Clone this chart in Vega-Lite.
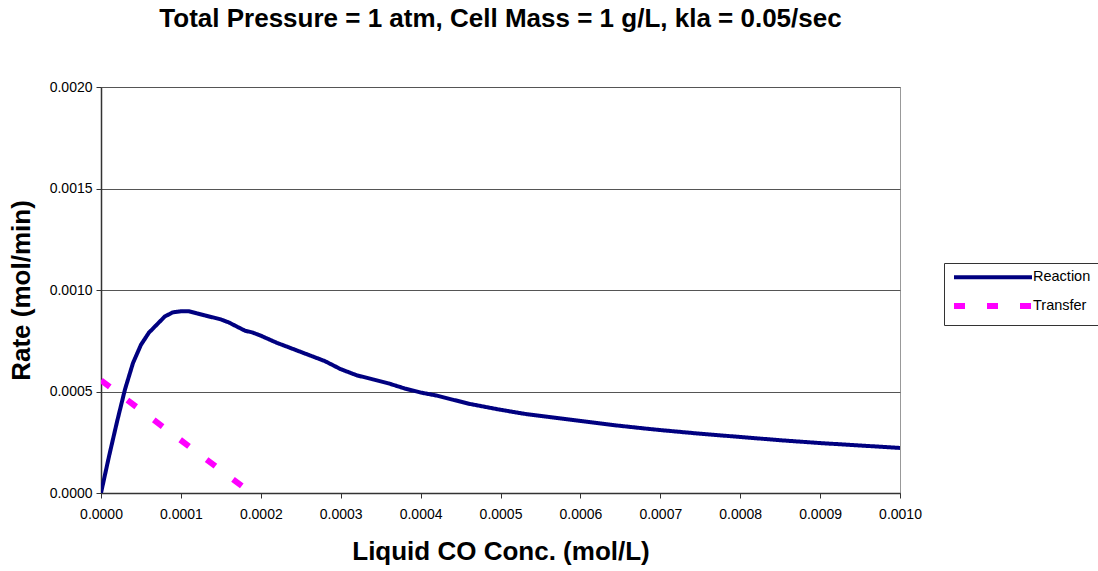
{
  "$schema": "https://vega.github.io/schema/vega-lite/v6.json",
  "width": 799,
  "height": 406,
  "autosize": "none",
  "padding": {"left": 101, "top": 87, "right": 198, "bottom": 78},
  "background": "white",
  "title": {
    "text": "Total Pressure = 1 atm, Cell Mass = 1 g/L, kla = 0.05/sec",
    "font": "Liberation Sans",
    "fontSize": 26,
    "fontWeight": "bold",
    "color": "black",
    "anchor": "middle",
    "offset": 48
  },
  "data": {
    "values": [
      {"conc": 0, "rate": 0, "series": "Reaction"},
      {"conc": 0.00001, "rate": 0.00018, "series": "Reaction"},
      {"conc": 0.00002, "rate": 0.00035, "series": "Reaction"},
      {"conc": 0.00003, "rate": 0.00051, "series": "Reaction"},
      {"conc": 0.00004, "rate": 0.00064, "series": "Reaction"},
      {"conc": 0.00005, "rate": 0.00073, "series": "Reaction"},
      {"conc": 0.00006, "rate": 0.00079, "series": "Reaction"},
      {"conc": 0.00007, "rate": 0.00083, "series": "Reaction"},
      {"conc": 0.00008, "rate": 0.00087, "series": "Reaction"},
      {"conc": 0.00009, "rate": 0.00089, "series": "Reaction"},
      {"conc": 0.0001, "rate": 0.000895, "series": "Reaction"},
      {"conc": 0.00011, "rate": 0.000895, "series": "Reaction"},
      {"conc": 0.00012, "rate": 0.000885, "series": "Reaction"},
      {"conc": 0.00013, "rate": 0.000875, "series": "Reaction"},
      {"conc": 0.00014, "rate": 0.000865, "series": "Reaction"},
      {"conc": 0.00015, "rate": 0.000855, "series": "Reaction"},
      {"conc": 0.00016, "rate": 0.00084, "series": "Reaction"},
      {"conc": 0.00017, "rate": 0.00082, "series": "Reaction"},
      {"conc": 0.00018, "rate": 0.0008, "series": "Reaction"},
      {"conc": 0.00019, "rate": 0.00079, "series": "Reaction"},
      {"conc": 0.0002, "rate": 0.000775, "series": "Reaction"},
      {"conc": 0.00022, "rate": 0.00074, "series": "Reaction"},
      {"conc": 0.00024, "rate": 0.00071, "series": "Reaction"},
      {"conc": 0.00026, "rate": 0.00068, "series": "Reaction"},
      {"conc": 0.00028, "rate": 0.00065, "series": "Reaction"},
      {"conc": 0.0003, "rate": 0.00061, "series": "Reaction"},
      {"conc": 0.00032, "rate": 0.00058, "series": "Reaction"},
      {"conc": 0.00034, "rate": 0.00056, "series": "Reaction"},
      {"conc": 0.00036, "rate": 0.00054, "series": "Reaction"},
      {"conc": 0.00038, "rate": 0.000515, "series": "Reaction"},
      {"conc": 0.0004, "rate": 0.000495, "series": "Reaction"},
      {"conc": 0.00042, "rate": 0.00048, "series": "Reaction"},
      {"conc": 0.00044, "rate": 0.00046, "series": "Reaction"},
      {"conc": 0.00046, "rate": 0.00044, "series": "Reaction"},
      {"conc": 0.00048, "rate": 0.000425, "series": "Reaction"},
      {"conc": 0.0005, "rate": 0.00041, "series": "Reaction"},
      {"conc": 0.00053, "rate": 0.00039, "series": "Reaction"},
      {"conc": 0.00056, "rate": 0.000375, "series": "Reaction"},
      {"conc": 0.0006, "rate": 0.000355, "series": "Reaction"},
      {"conc": 0.00064, "rate": 0.000335, "series": "Reaction"},
      {"conc": 0.00068, "rate": 0.000318, "series": "Reaction"},
      {"conc": 0.0007, "rate": 0.00031, "series": "Reaction"},
      {"conc": 0.00075, "rate": 0.000292, "series": "Reaction"},
      {"conc": 0.0008, "rate": 0.000276, "series": "Reaction"},
      {"conc": 0.00085, "rate": 0.00026, "series": "Reaction"},
      {"conc": 0.0009, "rate": 0.000246, "series": "Reaction"},
      {"conc": 0.00095, "rate": 0.000234, "series": "Reaction"},
      {"conc": 0.001, "rate": 0.000222, "series": "Reaction"},
      {"conc": 0, "rate": 0.000555, "series": "Transfer"},
      {"conc": 0.000188, "rate": 0, "series": "Transfer"}
    ]
  },
  "mark": {"type": "line", "clip": true},
  "encoding": {
    "x": {
      "field": "conc",
      "type": "quantitative",
      "scale": {"domain": [0, 0.001], "nice": false},
      "axis": {
        "title": "Liquid CO Conc. (mol/L)",
        "values": [0, 0.0001, 0.0002, 0.0003, 0.0004, 0.0005, 0.0006, 0.0007, 0.0008, 0.0009, 0.001],
        "format": ".4f",
        "grid": false,
        "labelFlush": false,
        "labelOverlap": false,
        "labelPadding": 9,
        "titlePadding": 17
      }
    },
    "y": {
      "field": "rate",
      "type": "quantitative",
      "scale": {"domain": [0, 0.002], "nice": false},
      "axis": {
        "title": "Rate (mol/min)",
        "values": [0, 0.0005, 0.001, 0.0015, 0.002],
        "format": ".4f",
        "grid": true,
        "labelPadding": 4,
        "titlePadding": 15
      }
    },
    "color": {
      "field": "series",
      "type": "nominal",
      "scale": {"domain": ["Reaction", "Transfer"], "range": ["#000080", "#FF00FF"]},
      "legend": {
        "title": null,
        "orient": "none",
        "legendX": 843,
        "legendY": 176,
        "symbolType": "M-1,0H14.6",
        "symbolSize": 100,
        "rowPadding": 8,
        "labelOffset": 66
      }
    },
    "strokeDash": {
      "field": "series",
      "type": "nominal",
      "scale": {"domain": ["Reaction", "Transfer"], "range": [[1, 0], [11, 22]]},
      "legend": {
        "title": null,
        "orient": "none",
        "legendX": 843,
        "legendY": 176,
        "symbolType": "M-1,0H14.6",
        "symbolSize": 100,
        "rowPadding": 8,
        "labelOffset": 66
      }
    },
    "strokeWidth": {
      "field": "series",
      "type": "nominal",
      "scale": {"domain": ["Reaction", "Transfer"], "range": [4, 6]},
      "legend": null
    }
  },
  "config": {
    "view": {"stroke": "#999999", "strokeWidth": 1},
    "font": "Liberation Sans",
    "axis": {
      "labelFont": "Liberation Sans",
      "labelFontSize": 14,
      "labelColor": "black",
      "titleFont": "Liberation Sans",
      "titleFontSize": 26,
      "titleFontWeight": "bold",
      "titleColor": "black",
      "tickSize": 5,
      "tickColor": "#333333",
      "domainColor": "#333333",
      "domainWidth": 1.5,
      "gridColor": "#555555",
      "gridWidth": 1
    },
    "legend": {
      "labelFont": "Liberation Sans",
      "labelFontSize": 14.5,
      "labelColor": "black",
      "strokeColor": "#333333",
      "padding": 7,
      "fillColor": "white",
      "symbolStrokeWidth": 5
    }
  }
}
